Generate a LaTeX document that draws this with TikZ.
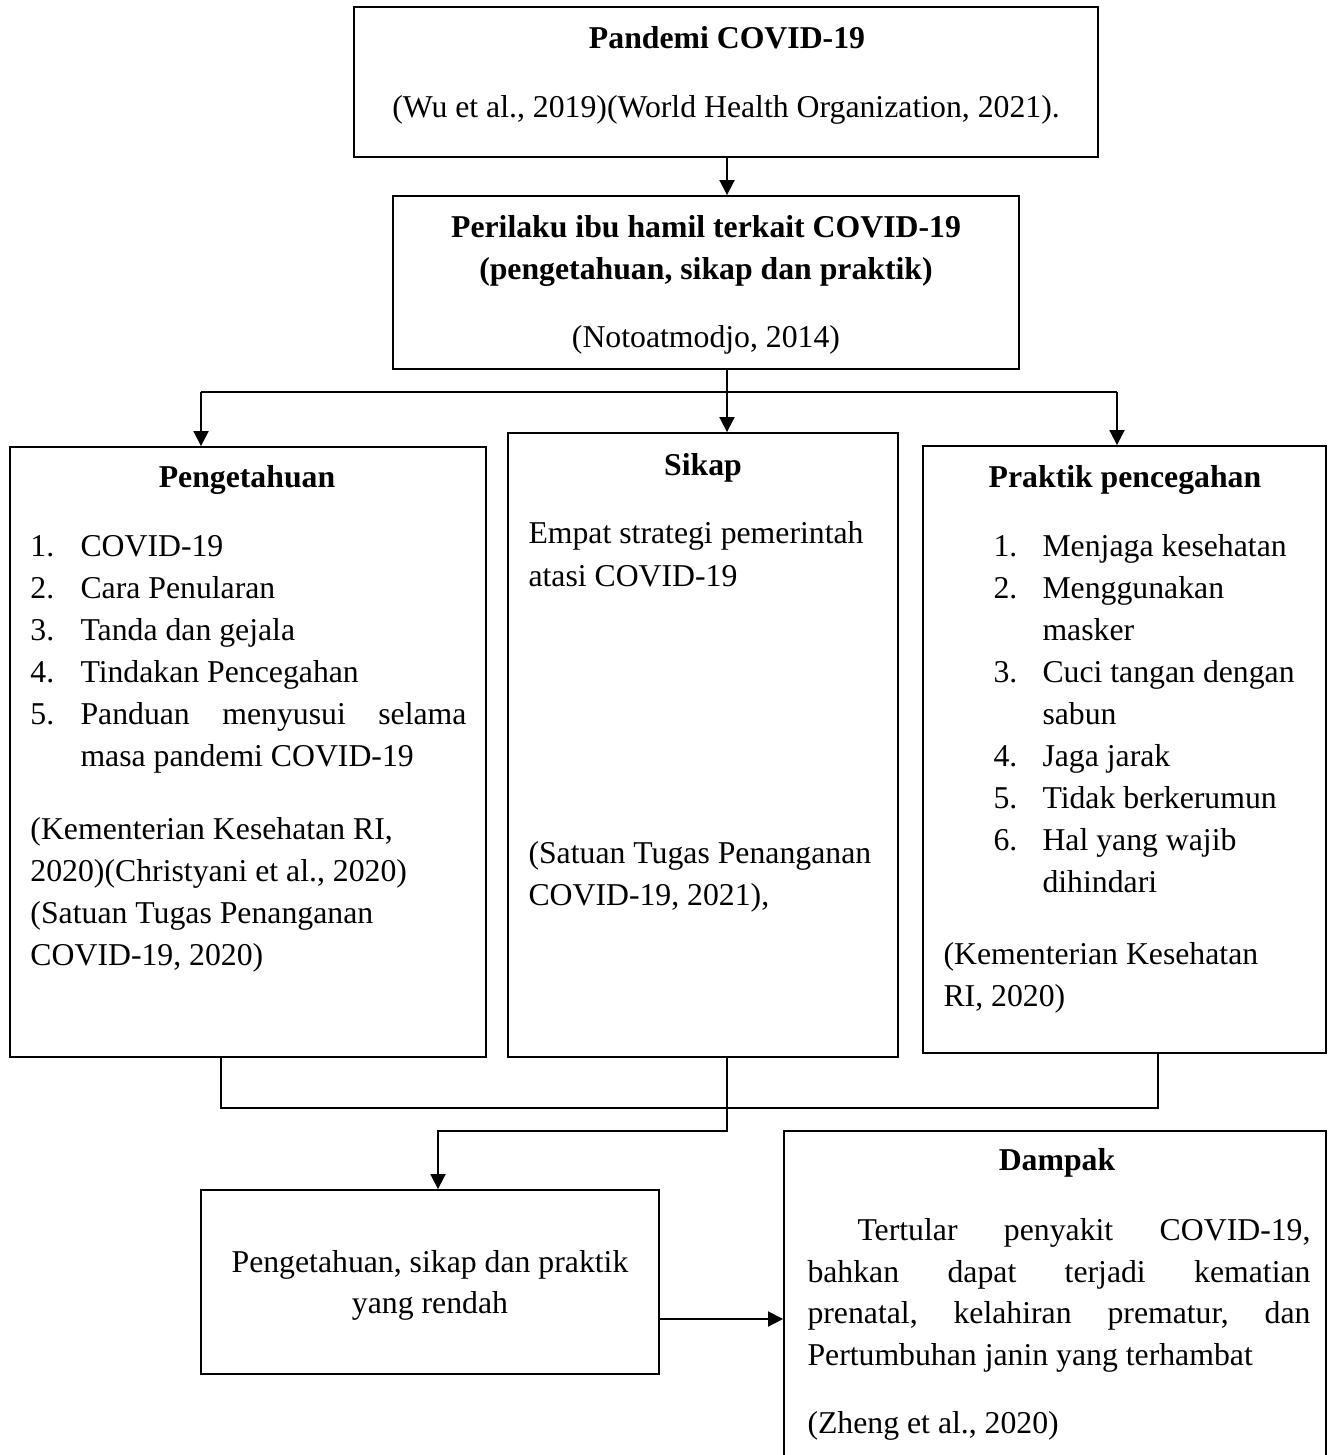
\documentclass[tikz,border=0pt]{standalone}
\usepackage{fontspec}
\setmainfont{Liberation Serif}
\usetikzlibrary{arrows.meta}
\begin{document}
\begin{tikzpicture}[x=0.4pt,y=-0.4pt,
  box/.style={draw,line width=0.75pt,inner sep=0pt},
  conn/.style={line width=0.75pt},
  arr/.style={conn,-{Triangle[length=6pt,width=6pt]}},
  txt/.style={inner sep=0pt,font=\fontsize{12.7pt}{16.8pt}\selectfont},
  lt/.style={txt,anchor=base west},
  ct/.style={txt,anchor=base},
  bt/.style={inner sep=0pt,anchor=base,font=\fontsize{12.7pt}{16.8pt}\selectfont\bfseries}]
\useasboundingbox (0,0) rectangle (1334,1455);
% boxes
\node[box,minimum width=297.6pt,minimum height=60pt] (top) at (726,82) {};
\node[box,minimum width=250.4pt,minimum height=69.2pt] (box2) at (706,282.5) {};
\node[box,minimum width=190.4pt,minimum height=244pt] (left) at (248,752) {};
\node[box,minimum width=156pt,minimum height=249.6pt] (mid) at (703,745) {};
\node[box,minimum width=161.2pt,minimum height=242.8pt] (right) at (1124.5,749.5) {};
\node[box,minimum width=183.2pt,minimum height=73.6pt] (low) at (430,1282) {};
\node[box,minimum width=216.8pt,minimum height=137.6pt] (damp) at (1055,1303) {};
% junctions
\coordinate (hl) at (201,392);
\coordinate (hm) at (727,392);
\coordinate (hr) at (1117,392);
\coordinate (bl) at (221,1108);
\coordinate (br) at (1158,1108);
\coordinate (bm) at (727,1131);
\coordinate (bt) at (438,1131);
\coordinate (ay) at (0,1319);
% connectors
\draw[arr] (top.south -| hm) -- (box2.north -| hm);
\draw[arr] (box2.south -| hm) -- (mid.north -| hm);
\draw[conn] (hl) -- (hr);
\draw[arr] (hl) -- (left.north -| hl);
\draw[arr] (hr) -- (right.north -| hr);
\draw[conn] (left.south -| bl) -- (bl) -- (br) -- (right.south -| br);
\draw[arr] (mid.south -| bm) -- (bm) -- (bt) -- (low.north -| bt);
\draw[arr] (low.east |- ay) -- (damp.west |- ay);
% top texts
\node[bt] (t1) at (727,48) {Pandemi COVID-19};
\node[ct] (t2) at (726,117) {(Wu et al., 2019)(World Health Organization, 2021).};
\node[bt] (b1) at (706,237) {Perilaku ibu hamil terkait COVID-19};
\node[bt] (b2) at (706,279) {(pengetahuan, sikap dan praktik)};
\node[ct] (b3) at (706,347) {(Notoatmodjo, 2014)};
% left box
\node[bt] (l0) at (247,487) {Pengetahuan};
\foreach \n/\t [count=\i from 0] in {1./COVID-19,2./Cara Penularan,3./Tanda dan gejala,4./Tindakan Pencegahan}{
  \node[lt] (ln\i) at (30,556+42*\i) {\n};
  \node[lt] (lx\i) at (80,556+42*\i) {\t};
}
\node[lt] (ln4) at (30,724) {5.};
\node[lt] (lx4) at (80,724) {\hbox to 154.4pt{Panduan\hfill menyusui\hfill selama}};
\node[lt] (lx5) at (80,766) {masa pandemi COVID-19};
\node[lt] (lc1) at (30,839) {(Kementerian Kesehatan RI,};
\node[lt] (lc2) at (30,881) {2020)(Christyani et al., 2020)};
\node[lt] (lc3) at (30,923) {(Satuan Tugas Penanganan};
\node[lt] (lc4) at (30,965) {COVID-19, 2020)};
% middle box
\node[bt] (m0) at (703,475) {Sikap};
\node[lt] (m1) at (528,543) {Empat strategi pemerintah};
\node[lt] (m2) at (528,586) {atasi COVID-19};
\node[lt] (m3) at (528,863) {(Satuan Tugas Penanganan};
\node[lt] (m4) at (528,905) {COVID-19, 2021),};
% right box
\node[bt] (r0) at (1125,487) {Praktik pencegahan};
\node[lt] (rn1) at (993,556) {1.};
\node[lt] (rx1) at (1042,556) {Menjaga kesehatan};
\node[lt] (rn2) at (993,598) {2.};
\node[lt] (rx2) at (1042,598) {Menggunakan};
\node[lt] (rx2b) at (1042,640) {masker};
\node[lt] (rn3) at (993,682) {3.};
\node[lt] (rx3) at (1042,682) {Cuci tangan dengan};
\node[lt] (rx3b) at (1042,724) {sabun};
\node[lt] (rn4) at (993,766) {4.};
\node[lt] (rx4) at (1042,766) {Jaga jarak};
\node[lt] (rn5) at (993,808) {5.};
\node[lt] (rx5) at (1042,808) {Tidak berkerumun};
\node[lt] (rn6) at (993,850) {6.};
\node[lt] (rx6) at (1042,850) {Hal yang wajib};
\node[lt] (rx6b) at (1042,892) {dihindari};
\node[lt] (rc1) at (943,964) {(Kementerian Kesehatan};
\node[lt] (rc2) at (943,1006) {RI, 2020)};
% low box
\node[ct] (w1) at (430,1272) {Pengetahuan, sikap dan praktik};
\node[ct] (w2) at (430,1313) {yang rendah};
% dampak
\node[bt] (d0) at (1057,1170) {Dampak};
\node[lt] (d1) at (807,1240) {\hbox to 201.2pt{\hskip 20pt Tertular\hfill penyakit\hfill COVID-19,}};
\node[lt] (d2) at (807,1282) {\hbox to 201.2pt{bahkan\hfill dapat\hfill terjadi\hfill kematian}};
\node[lt] (d3) at (807,1323) {\hbox to 201.2pt{prenatal,\hfill kelahiran\hfill prematur,\hfill dan}};
\node[lt] (d4) at (807,1365) {Pertumbuhan janin yang terhambat};
\node[lt] (d5) at (807,1433) {(Zheng et al., 2020)};
\end{tikzpicture}
\end{document}
